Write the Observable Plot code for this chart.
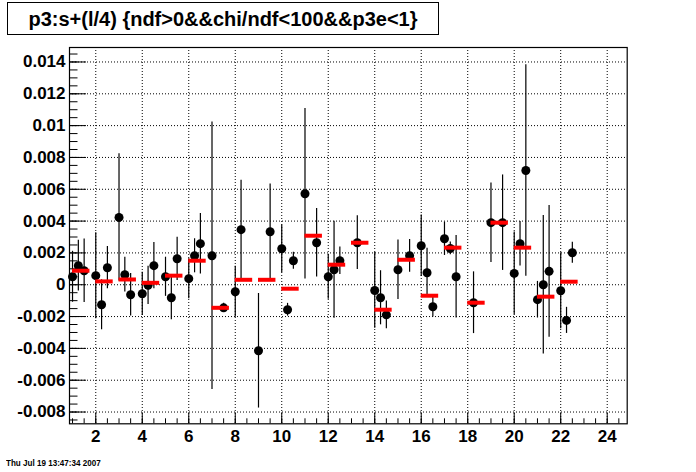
<!DOCTYPE html>
<html><head><meta charset="utf-8">
<script src="https://cdn.jsdelivr.net/npm/d3@7"></script>
<script src="https://cdn.jsdelivr.net/npm/@observablehq/plot@0.6"></script>
<style>
body{margin:0;background:#fff;}
#wrap{position:relative;width:696px;height:472px;font-family:"Liberation Sans",Arial,sans-serif;}
#title{position:absolute;left:7px;top:2px;width:432px;height:33px;box-sizing:border-box;border:1px solid #000;background:#fff;font-weight:bold;font-size:20px;line-height:32px;text-align:center;color:#000;}
#date{position:absolute;left:6px;top:458px;font-size:9.5px;line-height:10px;font-weight:bold;color:#000;white-space:nowrap;transform:scaleX(0.85);transform-origin:0 0;}
</style>
</head><body>
<div id="wrap"><div id="chart"></div>
<div id="title">p3:s+(l/4) {ndf&gt;0&amp;&amp;chi/ndf&lt;100&amp;&amp;p3e&lt;1}</div>
<div id="date">Thu Jul 19 13:47:34 2007</div>
</div>
<script>
// Black points: x = s + l/4, value and error
const pointX = [1.0,1.25,1.5, 2.0,2.25,2.5, 3.0,3.25,3.5, 4.0,4.25,4.5, 5.0,5.25,5.5, 6.0,6.25,6.5, 7.0,7.5, 8.0,8.25, 9.0,9.5, 10.0,10.25,10.5, 11.0,11.5, 12.0,12.25,12.5, 13.25, 14.0,14.25,14.5, 15.0,15.5, 16.0,16.25,16.5, 17.0,17.25,17.5, 18.25, 19.0,19.5, 20.0,20.25,20.5, 21.0,21.25,21.5, 22.0,22.25,22.5];
const pointY = [0.0005,0.0012,0.00088, 0.00057,-0.00126,0.00107, 0.00423,0.00063,-0.00063, -0.00057,-0.00004,0.0012, 0.0005,-0.00082,0.00163, 0.00038,0.00182,0.00258, 0.00182,-0.00145, -0.00044,0.00346, -0.00415,0.00333, 0.00226,-0.00157,0.00151, 0.00572,0.00264, 0.0005,0.00094,0.00151, 0.00264, -0.00036,-0.00082,-0.00189, 0.00094,0.00182, 0.00245,0.00075,-0.00138, 0.00289,0.00228,0.0005, -0.00113, 0.0039,0.0039, 0.00071,0.00258,0.00718, -0.00094,0.0,0.00084, -0.00038,-0.00224,0.00201];
const pointErr = [0.0016,0.0016,0.002, 0.0027,0.00157,0.00133, 0.004,0.00109,0.00134, 0.00136,0.0012,0.00146, 0.00123,0.00138,0.00136, 0.00126,0.00107,0.0019, 0.0084,0.00028, 0.0016,0.0031, 0.0036,0.003, 0.0015,0.0004,0.00053, 0.00536,0.00215, 0.00141,0.00305,0.00086, 0.00169, 0.00238,0.0017,0.00087, 0.00187,0.00103, 0.00194,0.00155,0.00065, 0.00105,0.0004,0.00259, 0.00194, 0.0025,0.003, 0.0026,0.0014,0.00665, 0.00115,0.00435,0.00414, 0.00239,0.00082,0.00066];
// Red sector means
const sectors = [1,2,3,4,5,6,7,8,9,10,11,12,13,14,15,16,17,18,19,20,21,22];
const sectorMean = [0.00088,0.00021,0.00033,0.00012,0.00057,0.00151,-0.00145,0.00031,0.00031,-0.00025,0.00308,0.00126,0.00264,-0.00157,0.00157,-0.00069,0.00233,-0.00113,0.0039,0.00233,-0.00075,0.00019];
// Axis ticks
const xMajor = [2,4,6,8,10,12,14,16,18,20,22,24];
const xMinor = d3.range(1, 24.9, 0.5);
const yMajor = [-0.008,-0.006,-0.004,-0.002,0,0.002,0.004,0.006,0.008,0.01,0.012,0.014];
const yMinor = d3.range(-0.0085, 0.01491, 0.0005);

const points = pointX.map((x, i) => ({x, y: pointY[i], e: pointErr[i]}));
const means = sectors.map((s, i) => ({s, m: sectorMean[i]}));

const W = 696, H = 472, mL = 69, mR = 69.3, mT = 47, mB = 48.7;
const fW = W - mL - mR, fH = H - mT - mB;
const fmt = d => d === 0 ? "0" : (Math.abs(d) >= 0.01 && Math.abs(d*1000 % 10) < 1e-9 ? d.toFixed(2) : d.toFixed(3));

const plot = Plot.plot({
  width: W, height: H,
  marginLeft: mL, marginRight: mR, marginTop: mT, marginBottom: mB,
  x: {domain: [0.87, 24.86]},
  y: {domain: [-0.00874, 0.01491]},
  style: {fontFamily: "'Liberation Sans', Arial, sans-serif", background: "white", color: "black"},
  marks: [
    Plot.gridX(xMajor, {stroke: "black", strokeOpacity: 1, strokeDasharray: "1,2"}),
    Plot.gridY(yMajor, {stroke: "black", strokeOpacity: 1, strokeDasharray: "1,2"}),
    Plot.tickY(yMinor, {y: d => d, insetRight: fW - 8.5, stroke: "black"}),
    Plot.tickY(yMajor, {y: d => d, insetRight: fW - 17, stroke: "black"}),
    Plot.tickX(xMinor, {x: d => d, insetTop: fH - 5, stroke: "black"}),
    Plot.tickX(xMajor, {x: d => d, insetTop: fH - 11, stroke: "black"}),
    Plot.axisY(yMajor, {tickSize: 0, tickPadding: 4, tickFormat: fmt, fontSize: 17, fontWeight: "bold"}),
    Plot.axisX(xMajor, {tickSize: 0, tickPadding: 6, fontSize: 17, fontWeight: "bold"}),
    Plot.ruleX(points, {x: "x", y1: d => d.y - d.e, y2: d => d.y + d.e, stroke: "black", strokeWidth: 1.2}),
    Plot.dot(points, {x: "x", y: "y", r: 4.5, fill: "black", stroke: "none"}),
    Plot.ruleY(means, {y: "m", x1: "s", x2: d => d.s + 0.75, stroke: "#ff0000", strokeWidth: 4}),
    Plot.frame({stroke: "black", strokeWidth: 1.2})
  ]
});
document.getElementById("chart").appendChild(plot);
</script>
</body></html>
